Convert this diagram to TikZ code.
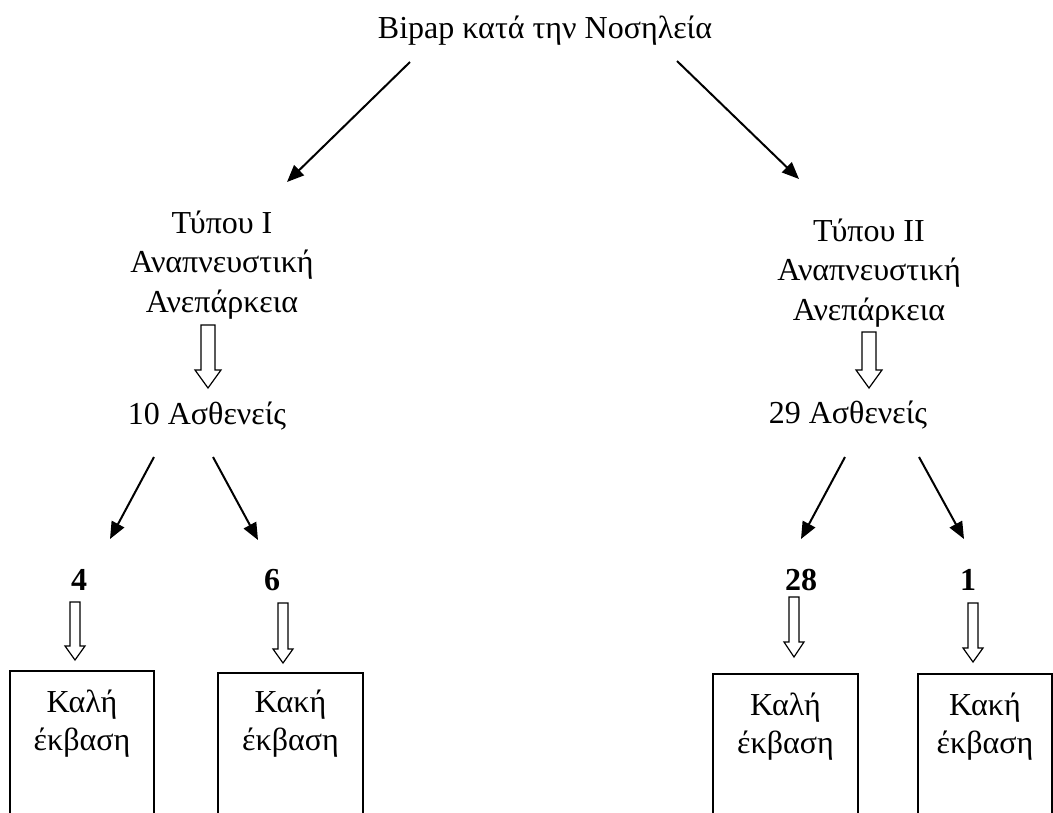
\documentclass[tikz,border=0pt]{standalone}
\usepackage{fontspec}
\setmainfont{Liberation Serif}
\usetikzlibrary{arrows.meta,positioning}

\tikzset{
  lbl/.style={font=\fontsize{32}{39.5}\selectfont, align=center, inner sep=0pt, anchor=base},
  num/.style={font=\fontsize{32}{39.5}\selectfont\bfseries, inner sep=0pt, anchor=base},
  conn/.style={-{Triangle[length=17pt,width=14pt]}, line width=2pt},
  outcome/.style={draw, line width=1.5pt, font=\fontsize{32}{38}\selectfont, align=center,
    anchor=north, inner sep=0pt, text height=80pt, text depth=100pt},
  hollow/.style={draw, line width=1.2pt, line join=miter, fill=white},
  pics/fatarrow/.style n args={4}{code={
    \draw[hollow] (-#2,0) -- (-#2,#1-#4) -- (-#3,#1-#4) -- (0,#1) -- (#3,#1-#4) -- (#2,#1-#4) -- (#2,0) -- cycle;
  }}
}

\begin{document}
\begin{tikzpicture}[x=1pt,y=-1pt]
\useasboundingbox (0,0) rectangle (1053,812);
\clip (0,0) rectangle (1053,812);
\node[lbl] (title) at (545,38) {Βipap κατά την Νοσηλεία};
\node[lbl] (t1) at (222,312) {Τύπου I\\Αναπνευστική\\Ανεπάρκεια};
\node[lbl] (t2) at (869,320) {Τύπου II\\Αναπνευστική\\Ανεπάρκεια};
\node[lbl] (n10) at (207,424) {10 Ασθενείς};
\node[lbl] (n29) at (848,423) {29 Ασθενείς};
\node[num] (c4) at (79,590) {4};
\node[num] (c6) at (272,590) {6};
\node[num] (c28) at (801,590) {28};
\node[num] (c1) at (968,590) {1};
\node[outcome, minimum width=144pt] (good1) at (82,670) {Καλή\\έκβαση};
\node[outcome, minimum width=145pt, text height=78pt] (bad1) at (290.5,672) {Κακή\\έκβαση};
\node[outcome, minimum width=145pt] (good2) at (785.5,673) {Καλή\\έκβαση};
\node[outcome, minimum width=134pt] (bad2) at (985,673) {Κακή\\έκβαση};

\draw[conn] ([shift={(-135,24)}]title.base) -- ([shift={(65,-130)}]t1.base);
\draw[conn] ([shift={(132,23)}]title.base) -- ([shift={(-70,-141)}]t2.base);
\draw[conn] ([shift={(-53,33)}]n10.base) -- ([shift={(31,-51)}]c4.base);
\draw[conn] ([shift={(6,33)}]n10.base) -- ([shift={(-14,-50)}]c6.base);
\draw[conn] ([shift={(-3,34)}]n29.base) -- ([shift={(0,-51)}]c28.base);
\draw[conn] ([shift={(71,34)}]n29.base) -- ([shift={(-4,-51)}]c1.base);

\pic at (208,325) {fatarrow={63}{7}{13}{18}};
\pic at (869,332) {fatarrow={56}{7}{13}{18}};
\pic at (75,602) {fatarrow={58}{5}{10}{14}};
\pic at (283,603) {fatarrow={60}{5}{10}{14}};
\pic at (794,597) {fatarrow={60}{5}{10}{15}};
\pic at (973,603) {fatarrow={59}{5}{10}{14}};
\end{tikzpicture}
\end{document}
